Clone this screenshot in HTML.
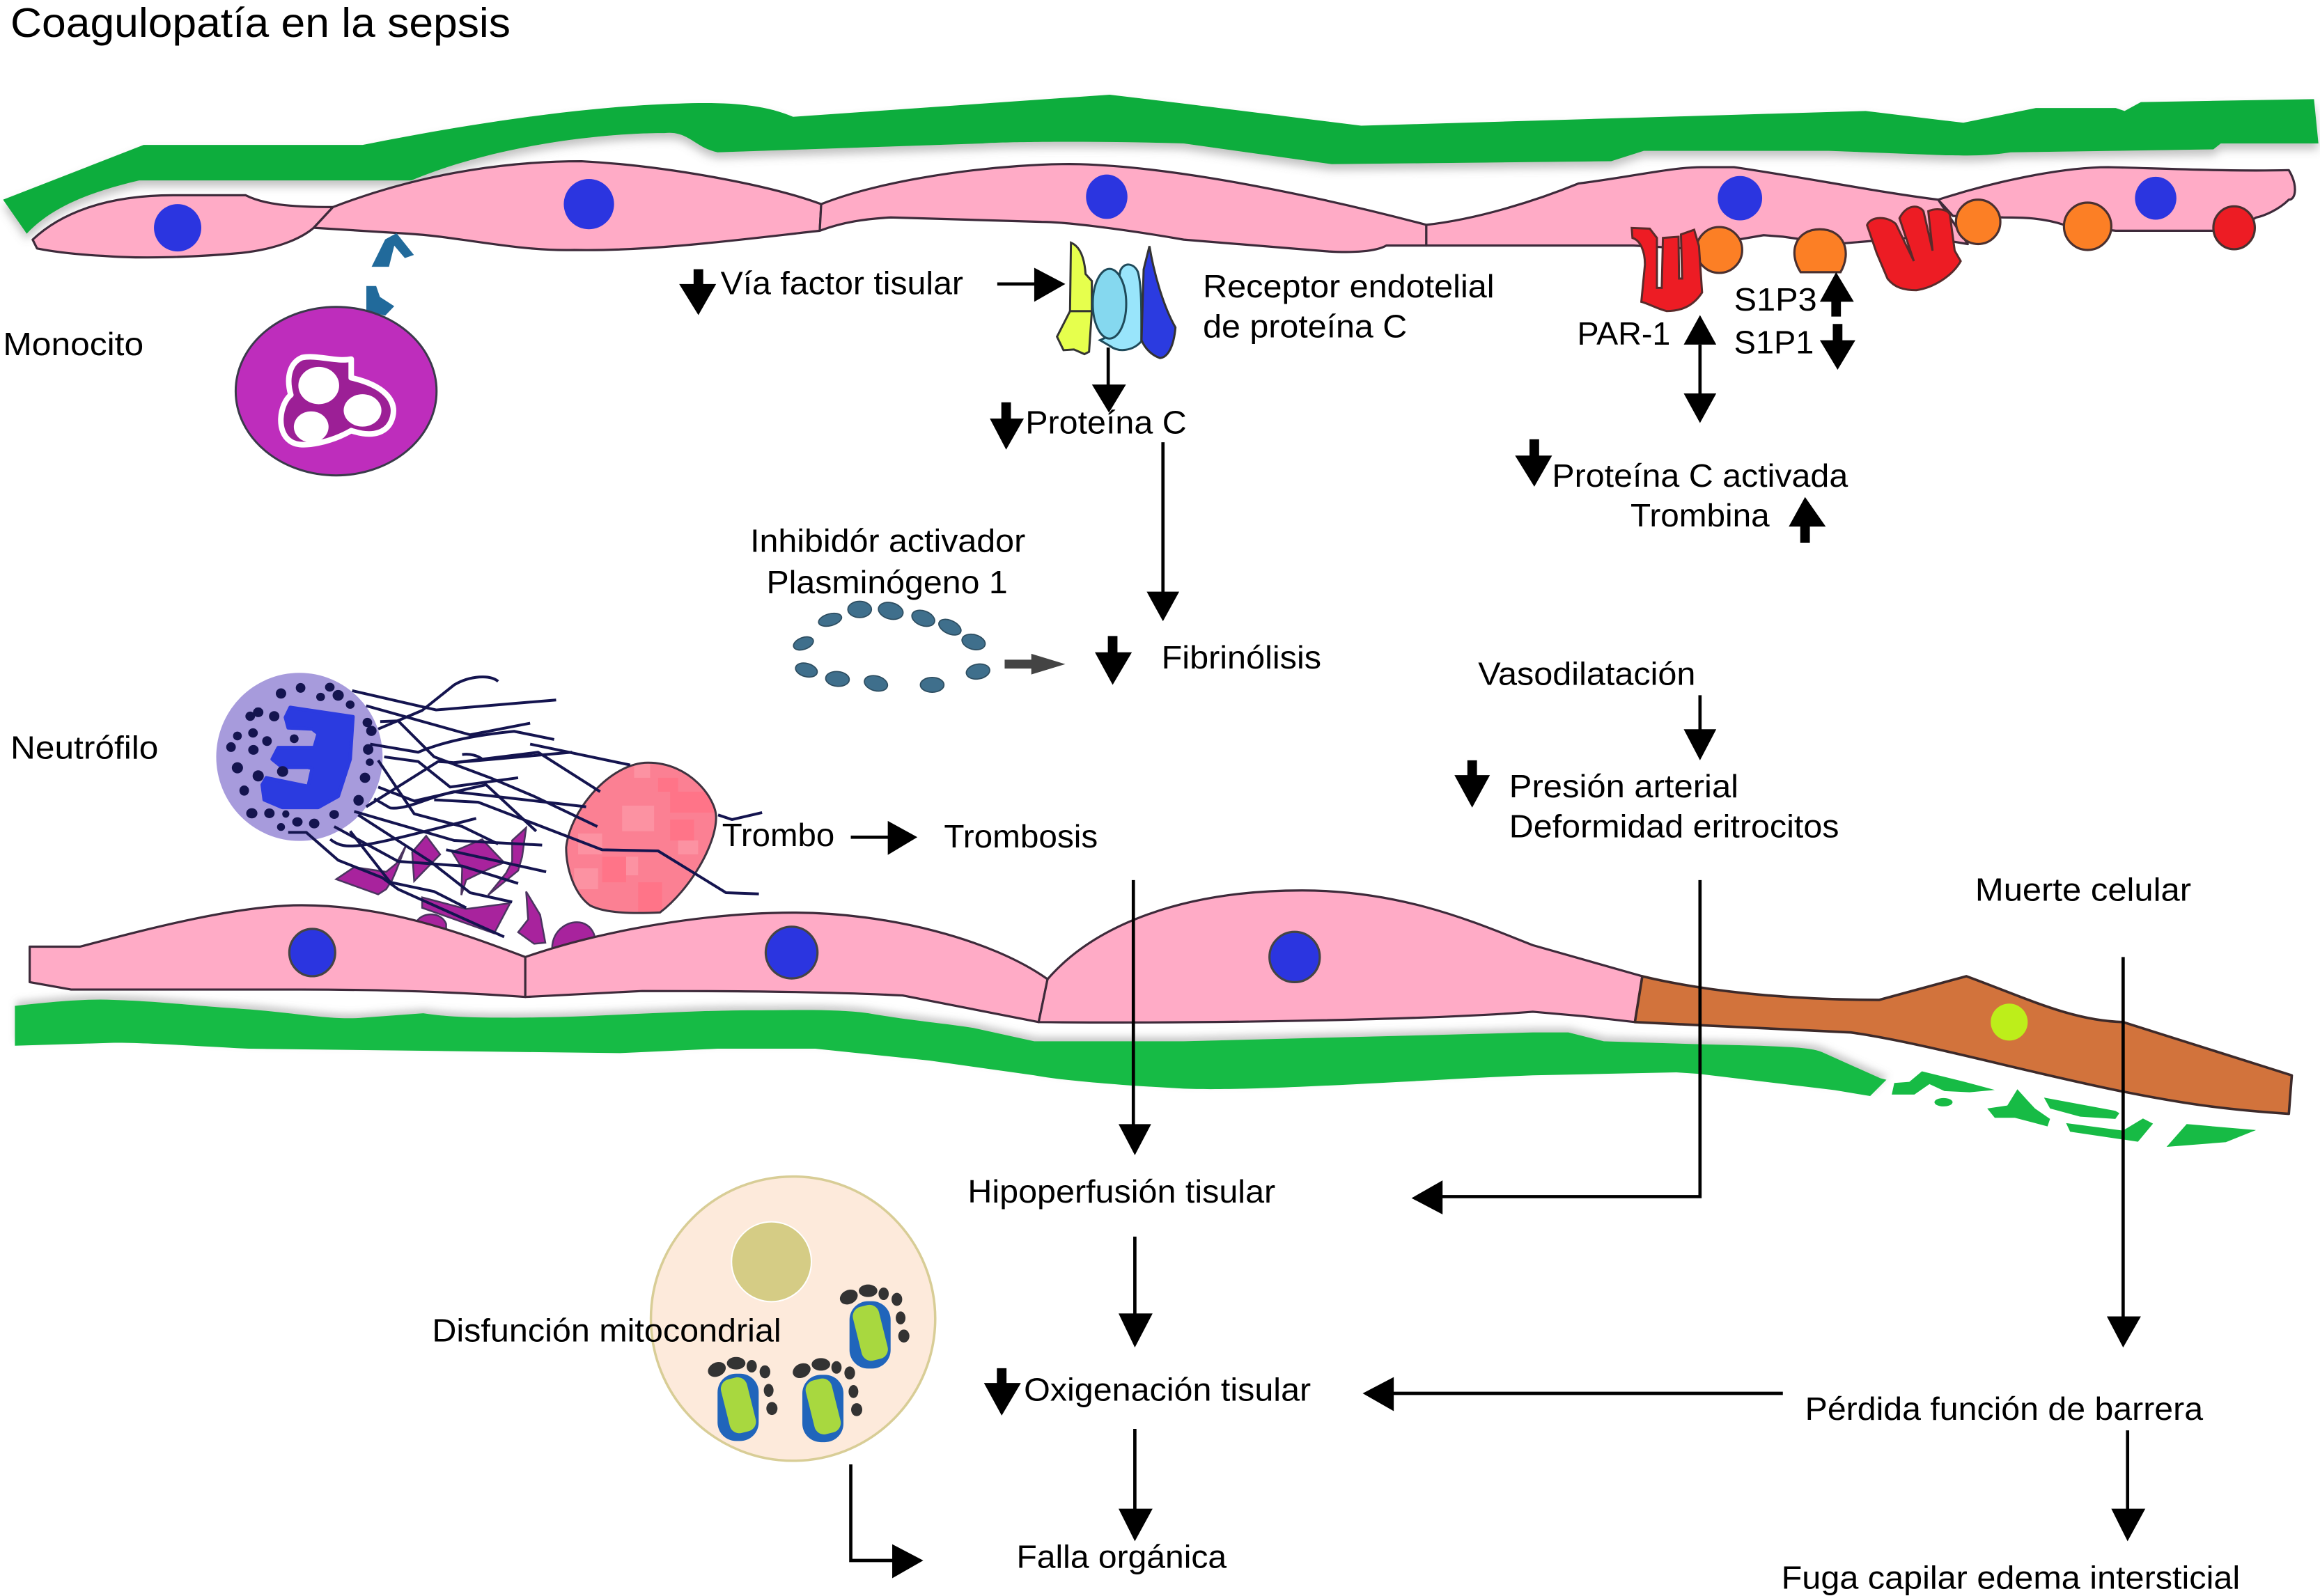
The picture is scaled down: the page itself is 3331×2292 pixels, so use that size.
<!DOCTYPE html>
<html><head><meta charset="utf-8">
<style>
html,body{margin:0;padding:0;background:#fff}
svg{display:block}
text{font-family:"Liberation Sans",sans-serif;font-size:22px;fill:#000}
.cell{fill:#ffabc6;stroke:#3d2a3a;stroke-width:1.5;stroke-linejoin:round}
.ns{vector-effect:non-scaling-stroke}
.strand path{fill:none;stroke:#14144f;stroke-width:4;vector-effect:non-scaling-stroke;stroke-linejoin:round}
.frag path{fill:#a8239d;stroke:#4b3560;stroke-width:2.5;vector-effect:non-scaling-stroke}
.l{stroke:#000;stroke-width:2.2;fill:none}
.t{stroke:#000;stroke-width:6.5;fill:none}
</style></head><body>
<svg xmlns="http://www.w3.org/2000/svg" width="3331" height="2292" viewBox="0 0 1568 1079">
<defs>
<filter id="sd" x="-5%" y="-30%" width="110%" height="170%"><feDropShadow dx="0" dy="4" stdDeviation="3" flood-color="#777" flood-opacity=".45"/></filter>
<filter id="su" x="-5%" y="-30%" width="110%" height="170%"><feDropShadow dx="1" dy="-3" stdDeviation="2.5" flood-color="#777" flood-opacity=".4"/></filter>
<clipPath id="thr"><path d="M1185,495 C1290,495 1355,650 1355,730 C1355,850 1290,1040 1215,1140 C1150,1145 1080,1145 1040,1110 C1000,1060 980,950 980,860 C990,700 1090,495 1185,495 Z"/></clipPath>
<g id="mito">
<rect x="1018" y="565" width="177" height="290" rx="80" fill="#2065bb"/>
<rect x="1050" y="582" width="115" height="238" rx="42" fill="#a8d83f" transform="rotate(-14 1108 700)"/>
<g fill="#333">
<ellipse cx="1015" cy="547" rx="40" ry="30" transform="rotate(-25 1015 547)"/>
<ellipse cx="1098" cy="520" rx="40" ry="27"/><ellipse cx="1165" cy="533" rx="22" ry="27"/>
<ellipse cx="1222" cy="557" rx="23" ry="28"/><ellipse cx="1238" cy="637" rx="21" ry="28"/><ellipse cx="1252" cy="715" rx="24" ry="28"/>
</g></g>
</defs>
<rect width="1568" height="1079" fill="#fff"/>

<!-- top basement membrane -->
<path filter="url(#sd)" fill="#0fad3c" d="M2,135 L97,98 L245,98 C310,85 390,72 459,70 C490,69 515,70 536,79 L750,64 L800,70 L920,85 L1261,75 L1327,83 L1376,73 L1430,73 L1436,75 L1447,69 L1564,67 L1567,97 L1501,97 L1496,101 L1359,103 C1340,106 1325,105 1315,105 L1236,102 L1111,102 L1089,109 L900,111 L800,97 C740,95 670,96 664,97 L485,103 C470,100 465,88 449,90 C400,90 330,100 278,122 L94,122 C60,130 35,140 18,158 L2,135 Z"/>

<!-- top cells -->
<path class="cell" d="M22,162 C40,145 70,132 117,132 L166,132 C178,138 195,140 225,140 L212,154 C205,160 190,168 163,171 C130,174 95,175 70,173 C50,172 35,170 25,168 Z"/>
<path class="cell" d="M225,140 C290,115 350,109 393,109 C450,112 520,125 555,138 L554,156 C500,162 440,170 388,169 C350,170 310,160 276,158 L212,154 Z"/>
<path class="cell" d="M555,138 C600,120 680,110 730,111 C800,113 900,135 964,152 L964,166 L937,166 C930,170 915,171 898,170 L800,162 C760,155 720,150 704,150 L602,147 C585,148 570,150 554,156 Z"/>
<path class="cell" d="M964,152 C1000,148 1040,135 1067,124 C1100,120 1130,113 1150,113 L1172,113 C1220,120 1270,130 1310,135 L1330,165 L1300,160 L1240,165 L1205,160 L1192,159 L1140,168 L1104,166 L964,166 Z"/>
<path class="cell" d="M1310,135 C1350,122 1395,113 1425,113 C1465,114 1510,116 1547,115 C1553,125 1552,135 1547,135 C1540,142 1530,146 1525,147 L1510,156 L1430,156 L1395,152 C1380,147 1365,147 1354,147 L1320,146 Z"/>
<g fill="#2b35e0">
<ellipse cx="120" cy="154" rx="16" ry="16"/><ellipse cx="398" cy="138" rx="17" ry="17"/><ellipse cx="748" cy="133" rx="14" ry="15"/><ellipse cx="1176" cy="134" rx="15" ry="15"/><ellipse cx="1457" cy="134" rx="14" ry="14.5"/>
</g>
<g stroke="#4a3030" stroke-width="1.5">
<ellipse cx="1162" cy="169" rx="15.5" ry="15.5" fill="#fc7f25"/>
<path d="M1217,184 C1208,170 1214,155 1230,155 C1246,155 1252,170 1244,184 Z" fill="#fc7f25"/>
<ellipse cx="1337" cy="150" rx="15" ry="15" fill="#fc7f25"/>
<ellipse cx="1411" cy="153" rx="16" ry="16" fill="#fc7f25"/>
<ellipse cx="1510" cy="154" rx="14" ry="14.5" fill="#ed1c24"/>
</g>
<!-- red receptors -->
<g transform="translate(1092.3,131.8) scale(.1623,.157)">
<path class="ns" fill="#ed1c24" stroke="#5a2a2a" stroke-width="3" d="M65,142 L140,145 L170,185 L170,400 L190,400 L195,185 L260,180 L262,360 L275,360 L270,170 L325,150 L345,220 L358,420 C320,480 270,500 210,500 C170,490 140,470 105,460 L120,300 C120,240 100,195 68,185 Z"/>
<path class="ns" fill="#ed1c24" stroke="#5a2a2a" stroke-width="3" d="M1045,130 C1060,90 1130,90 1165,125 L1240,285 L1180,100 C1210,40 1260,40 1280,70 L1318,240 L1300,70 C1330,55 1380,60 1390,85 L1410,240 L1435,285 C1400,350 1320,400 1250,410 C1200,410 1160,400 1130,360 L1085,250 Z"/>
</g>

<!-- protein C receptor -->
<g transform="translate(696.8,150.7) scale(.157)" stroke-width="3">
<path class="ns" fill="#e6ff4d" stroke="#333" d="M172,85 C210,100 230,150 235,220 L262,250 L262,380 L168,380 Z"/>
<path class="ns" fill="#e6ff4d" stroke="#333" d="M168,380 L262,380 L250,555 L230,565 L185,545 L140,548 L112,490 Z"/>
<path class="ns" fill="#99e5fb" stroke="#1f4a5a" d="M385,205 C400,170 440,170 460,210 C478,270 475,400 475,510 C440,550 380,560 340,530 L297,505 L330,490 Z"/>
<ellipse class="ns" cx="338" cy="348" rx="72" ry="150" fill="#85d8ef" stroke="#1f4a5a"/>
<path class="ns" fill="#2b3be0" stroke="#333" d="M510,100 C530,220 570,360 622,450 C615,530 590,580 555,582 C520,570 490,540 476,505 L485,200 Z"/>
</g>

<!-- monocyte -->
<g transform="scale(.5104,.2102)">
<path fill="#216a9b" d="M492,858 L515,858 L522,790 L536,830 L548,820 L525,750 L510,770 Z"/>
<path fill="#216a9b" d="M485,920 L498,920 L503,955 L522,985 L510,1015 L485,1000 Z"/>
<ellipse class="ns" cx="445" cy="1258" rx="133" ry="271" fill="#be2dbc" stroke="#3a3a4a" stroke-width="3"/>
<path class="ns" fill="#9c1f96" stroke="#fff" stroke-width="8" stroke-linejoin="round" d="M400,1150 C420,1140 445,1165 465,1155 L465,1215 C510,1240 525,1290 520,1340 C515,1390 495,1410 465,1385 C440,1420 400,1445 385,1420 C365,1390 370,1300 385,1270 C378,1210 385,1165 400,1150 Z"/>
<ellipse cx="422" cy="1240" rx="27" ry="60" fill="#fff"/><ellipse cx="480" cy="1320" rx="25" ry="52" fill="#fff"/><ellipse cx="412" cy="1373" rx="23" ry="50" fill="#fff"/>
</g>

<!-- PAI ring -->
<g fill="#3f6f8c" stroke="#2d4d60" stroke-width=".8">
<ellipse cx="543" cy="435" rx="7" ry="4" transform="rotate(-20 543 435)"/><ellipse cx="561" cy="419" rx="8" ry="4" transform="rotate(-15 561 419)"/><ellipse cx="581" cy="412" rx="8" ry="5.5"/><ellipse cx="602" cy="413" rx="8.5" ry="5.5" transform="rotate(15 602 413)"/><ellipse cx="624" cy="418" rx="8" ry="5" transform="rotate(20 624 418)"/><ellipse cx="642" cy="424" rx="8" ry="4.5" transform="rotate(25 642 424)"/><ellipse cx="658" cy="434" rx="8" ry="5" transform="rotate(15 658 434)"/><ellipse cx="661" cy="454" rx="8" ry="5" transform="rotate(-10 661 454)"/><ellipse cx="630" cy="463" rx="8" ry="5"/><ellipse cx="592" cy="462" rx="8" ry="5" transform="rotate(15 592 462)"/><ellipse cx="566" cy="459" rx="8" ry="5" transform="rotate(5 566 459)"/><ellipse cx="545" cy="453" rx="7.5" ry="4.5" transform="rotate(15 545 453)"/>
</g>
<path d="M679,446 L697,446 L697,442 L720,449 L697,456 L697,452 L679,452 Z" fill="#444"/>

<!-- neutrophil group domes -->
<g transform="translate(117.7,437.9) scale(.2703,.157)">
<g class="frag">
<path d="M608,1175 C625,1135 670,1140 680,1190 L680,1230 L608,1190 Z"/>
<path d="M945,1295 C945,1210 990,1170 1020,1185 C1040,1195 1050,1225 1052,1250 L950,1300 Z"/>
</g>
</g>

<!-- bottom basement membrane -->
<path filter="url(#su)" fill="#17bb45" d="M10,680 C30,678 55,675 77,676 C110,677 130,680 163,682 C195,684 225,690 245,688 L286,685 C305,688 325,688 347,688 C400,688 460,683 510,683 C540,683 565,682 587,685 C615,690 640,692 658,695 L699,704 L800,704 L1036,698 L1060,698 L1084,704 L1149,706 L1190,707 C1210,708 1225,708 1233,712 L1271,729 L1275,730 L1264,741 L1240,737 L1148,726 L1133,725 L1036,727 C960,730 850,738 800,736 L766,734 C740,732 715,730 699,727 L628,717 L551,709 L485,709 L419,712 L168,709 C130,707 100,705 77,705 L10,707 Z"/>
<g transform="translate(1035.8,635.6) scale(.3396,.157)" fill="#17bb45">
<path d="M720,615 L750,610 L775,565 L860,610 L920,645 L870,655 L820,650 L790,620 L760,665 L715,665 Z"/>
<ellipse cx="818" cy="698" rx="18" ry="18"/>
<path d="M965,642 L985,690 L1000,725 L1030,770 L1025,802 L960,765 L920,765 L905,725 L945,712 Z"/>
<path d="M1018,678 L1160,735 L1168,745 L1160,770 L1090,760 L1030,725 Z"/>
<path d="M1062,788 L1175,820 L1215,768 L1235,790 L1205,868 L1070,825 Z"/>
<path d="M1302,792 L1440,818 L1380,870 L1262,890 Z"/>
</g>

<!-- bottom cells -->
<path class="cell" d="M20,640 L54,640 C100,628 160,612 204,612 C260,612 310,630 355,647 L355,674 C300,670 250,669 204,669 L48,669 L20,664 Z"/>
<path class="cell" d="M355,647 C410,628 480,617 536,617 C600,617 670,635 708,662 L702,691 L610,673 C550,670 480,670 434,670 L355,674 Z"/>
<path class="cell" d="M708,662 C740,625 800,602 880,602 C950,602 1000,625 1036,639 L1110,660 L1105,691 L1070,687 L1036,684 C960,690 800,692 702,691 Z"/>
<path fill="#d2733c" stroke="#3d2a2a" stroke-width="1.7" stroke-linejoin="round" d="M1110,660 C1160,672 1220,676 1270,676 L1329,660 C1370,675 1400,690 1435,691 L1549,727 L1547,753 C1500,750 1470,745 1435,738 C1370,725 1300,705 1251,698 L1105,691 Z"/>
<ellipse cx="1358" cy="691" rx="12.5" ry="12.5" fill="#bdee1a"/>
<g stroke="#444" stroke-width="1.5" fill="#2b35e0">
<ellipse cx="211" cy="644" rx="15.5" ry="16"/><ellipse cx="535" cy="644" rx="17.5" ry="17.5"/><ellipse cx="875" cy="647" rx="17" ry="17"/>
</g>

<!-- neutrophil -->
<g transform="translate(117.7,437.9) scale(.2703,.157)">
<ellipse cx="313" cy="470" rx="208" ry="362" fill="#a79bdc"/>
<path class="ns" fill="#2b3be0" stroke="#2b3be0" stroke-width="5" stroke-linejoin="round" d="M290,257 L447,297 L440,480 L410,640 L360,688 L270,688 L225,655 L220,590 L230,560 L335,597 L345,520 L335,515 L270,515 L245,480 L260,430 L350,430 L360,370 L345,350 L285,345 L278,300 Z"/>
<g fill="#14144f">
<ellipse cx="267" cy="197" rx="13" ry="22"/><ellipse cx="316" cy="173" rx="12" ry="21"/><ellipse cx="389" cy="170" rx="12" ry="19"/><ellipse cx="366" cy="212" rx="11" ry="18"/><ellipse cx="410" cy="205" rx="14" ry="23"/><ellipse cx="440" cy="245" rx="11" ry="18"/><ellipse cx="210" cy="278" rx="13" ry="21"/><ellipse cx="190" cy="295" rx="12" ry="20"/><ellipse cx="250" cy="295" rx="13" ry="22"/><ellipse cx="483" cy="322" rx="12" ry="20"/><ellipse cx="493" cy="358" rx="13" ry="22"/><ellipse cx="197" cy="367" rx="12" ry="20"/><ellipse cx="158" cy="380" rx="11" ry="19"/><ellipse cx="232" cy="402" rx="12" ry="21"/><ellipse cx="300" cy="392" rx="11" ry="19"/><ellipse cx="142" cy="428" rx="12" ry="21"/><ellipse cx="198" cy="440" rx="13" ry="21"/><ellipse cx="485" cy="438" rx="13" ry="23"/><ellipse cx="489" cy="493" rx="10" ry="16"/><ellipse cx="158" cy="517" rx="14" ry="24"/><ellipse cx="210" cy="552" rx="14" ry="24"/><ellipse cx="271" cy="533" rx="14" ry="23"/><ellipse cx="477" cy="560" rx="13" ry="22"/><ellipse cx="175" cy="615" rx="12" ry="22"/><ellipse cx="461" cy="657" rx="13" ry="23"/><ellipse cx="194" cy="713" rx="14" ry="22"/><ellipse cx="238" cy="713" rx="13" ry="21"/><ellipse cx="279" cy="716" rx="9" ry="16"/><ellipse cx="400" cy="718" rx="12" ry="19"/><ellipse cx="308" cy="750" rx="13" ry="20"/><ellipse cx="350" cy="757" rx="13" ry="21"/><ellipse cx="267" cy="772" rx="10" ry="17"/>
</g>
<g class="frag">
<path d="M405,997 L450,945 L530,965 L555,930 L580,850 L555,960 L545,1000 L530,1040 L510,1062 Z"/>
<path d="M630,810 L665,890 L600,1005 L595,880 Z"/>
<path d="M695,880 L770,825 L800,880 L825,925 L790,950 L730,1000 L718,1065 L720,950 Z"/>
<path d="M880,775 L870,900 L860,960 L785,1065 L830,970 L845,920 L845,830 Z"/>
<path d="M620,1075 L730,1125 L840,1100 L800,1230 L620,1120 Z"/>
<path d="M880,1050 L915,1150 L928,1270 L900,1275 L860,1225 L885,1170 Z"/>
</g>
<path fill="#fb8093" d="M1185,495 C1290,495 1355,650 1355,730 C1355,850 1290,1040 1215,1140 C1150,1145 1080,1145 1040,1110 C1000,1060 980,950 980,860 C990,700 1090,495 1185,495 Z"/>
<g clip-path="url(#thr)">
<g fill="#ff7488"><rect x="1240" y="620" width="110" height="90"/><rect x="1240" y="740" width="60" height="90"/><rect x="1070" y="900" width="60" height="110"/><rect x="1160" y="1010" width="60" height="130"/><rect x="1210" y="560" width="50" height="60"/></g>
<g fill="#fc92a2"><rect x="1120" y="680" width="80" height="110"/><rect x="1010" y="800" width="60" height="90"/><rect x="1150" y="500" width="40" height="60"/><rect x="1260" y="830" width="50" height="60"/><rect x="1130" y="900" width="30" height="80"/><rect x="1000" y="950" width="60" height="90"/></g>
</g>
<path class="ns" fill="none" stroke="#3f3340" stroke-width="3" d="M1185,495 C1290,495 1355,650 1355,730 C1355,850 1290,1040 1215,1140 C1150,1145 1080,1145 1040,1110 C1000,1060 980,950 980,860 C990,700 1090,495 1185,495 Z"/>
<g class="strand">
<path d="M445,185 L655,268 L955,225"/>
<path d="M810,145 C790,115 740,120 700,160 L620,270 L510,350"/>
<path d="M480,250 L740,375 L890,325"/>
<path d="M515,318 L560,315 L650,470 L790,560 L900,640 L1058,770"/>
<path d="M490,415 L610,450 C680,400 760,375 850,360 L950,395"/>
<path d="M525,470 L610,490 L690,600 L860,560"/>
<path d="M510,485 L600,715 L720,770 L810,845"/>
<path d="M890,415 L1140,505"/>
<path d="M480,685 L660,490 L700,495 L910,450 L1065,620"/>
<path d="M510,600 L600,660 L780,590 L905,790"/>
<path d="M500,650 L540,690 C580,700 640,640 700,620 L1030,685"/>
<path d="M450,705 L700,830 L920,850"/>
<path d="M650,655 L760,665 L1070,870 L1210,875 L1380,1055 L1462,1060"/>
<path d="M390,825 C430,880 470,860 755,735"/>
<path d="M400,770 L560,920 L720,940 L860,1015"/>
<path d="M440,790 L540,1010 L650,1050 L730,1120"/>
<path d="M285,795 L330,795 L410,915 L520,990 L560,1040 L825,1245"/>
<path d="M460,720 L640,920 L740,1055 L845,1095"/>
<path d="M680,870 L930,965"/>
<path d="M720,460 C740,455 760,465 770,480"/>
<path d="M700,495 L995,450"/>
<path d="M1360,720 L1395,740 L1470,710"/>
</g>
</g>

<!-- mitochondria cell -->
<g transform="translate(414.3,791) scale(.157)">
<circle class="ns" cx="775" cy="640" r="612" fill="#fdeadb" stroke="#d8cd96" stroke-width="3.5"/>
<circle class="ns" cx="682" cy="395" r="172" fill="#d5cc85" stroke="#fff" stroke-width="2"/>
<use href="#mito"/>
<use href="#mito" x="-568" y="312"/>
<use href="#mito" x="-203" y="317"/>
</g>

<!-- arrows -->
<g fill="#000">
<path class="t" d="M472,182V194"/><path d="M459,192H484L472,213Z"/>
<path class="l" stroke-width="3" d="M674,192H700"/><path d="M699,181V204L720,192Z"/>
<path class="l" d="M749,235V262"/><path d="M738,260H761L749.500,279Z"/>
<path class="t" d="M680,272V285"/><path d="M669,283H692L680,304Z"/>
<path class="l" d="M786,299V402"/><path d="M775,400H797L786,420Z"/>
<path class="t" d="M752,430V442"/><path d="M740,441H765L752,463Z"/>
<path class="l" d="M1149,233V268"/><path d="M1138,233H1160L1149,213Z"/><path d="M1138,266H1160L1149,286Z"/>
<path class="t" stroke-width="8" d="M1241,202V214"/><path d="M1230,204H1253L1241,184Z"/>
<path class="t" stroke-width="7" d="M1242,219V232"/><path d="M1230,230H1254L1242,250Z"/>
<path class="t" stroke-width="7" d="M1037,297V310"/><path d="M1024,308H1049L1037,329Z"/>
<path class="t" d="M1220,354V367"/><path d="M1209,356H1234L1220,336Z"/>
<path class="l" d="M1149,470V495"/><path d="M1138,493H1160L1149,514Z"/>
<path class="t" d="M995,514V526"/><path d="M983,524H1007L995,546Z"/>
<path class="l" d="M575,566H602"/><path d="M600,555V578L620,566Z"/>
<path class="l" d="M766,595V762"/><path d="M756,760H778L767,781Z"/>
<path class="l" d="M1149,595V809H973"/><path d="M975,798V821L954,810Z"/>
<path class="l" d="M767,836V890"/><path d="M756,888H779L767,911Z"/>
<path class="l" d="M1435,647V892"/><path d="M1424,890H1447L1435,911Z"/>
<path class="t" d="M677,925V937"/><path d="M665,935H690L677,957Z"/>
<path class="l" d="M1205,942H940"/><path d="M942,931V954L921,942Z"/>
<path class="l" d="M767,966V1022"/><path d="M756,1020H779L767,1042Z"/>
<path class="l" d="M1438,967V1022"/><path d="M1427,1020H1450L1438,1042Z"/>
<path class="l" d="M575,990V1055H605"/><path d="M603,1044V1067L624,1055Z"/>
</g>

<!-- labels -->
<text x="7" y="25" style="font-size:28px" textLength="338" lengthAdjust="spacingAndGlyphs">Coagulopatía en la sepsis</text>
<text x="487" y="199" textLength="164" lengthAdjust="spacingAndGlyphs">Vía factor tisular</text>
<text x="813" y="201" textLength="197" lengthAdjust="spacingAndGlyphs">Receptor endotelial</text>
<text x="813" y="228" textLength="138" lengthAdjust="spacingAndGlyphs">de proteína C</text>
<text x="2" y="240" textLength="95" lengthAdjust="spacingAndGlyphs">Monocito</text>
<text x="693" y="293" textLength="109" lengthAdjust="spacingAndGlyphs">Proteína C</text>
<text x="1066" y="233" textLength="63" lengthAdjust="spacingAndGlyphs">PAR-1</text>
<text x="1172" y="210" textLength="56" lengthAdjust="spacingAndGlyphs">S1P3</text>
<text x="1172" y="239" textLength="54" lengthAdjust="spacingAndGlyphs">S1P1</text>
<text x="1049" y="329" textLength="200" lengthAdjust="spacingAndGlyphs">Proteína C activada</text>
<text x="1102" y="356" textLength="94" lengthAdjust="spacingAndGlyphs">Trombina</text>
<text x="507" y="373" textLength="186" lengthAdjust="spacingAndGlyphs">Inhibidór activador</text>
<text x="518" y="401" textLength="163" lengthAdjust="spacingAndGlyphs">Plasminógeno 1</text>
<text x="785" y="452" textLength="108" lengthAdjust="spacingAndGlyphs">Fibrinólisis</text>
<text x="999" y="463" textLength="147" lengthAdjust="spacingAndGlyphs">Vasodilatación</text>
<text x="7" y="513" textLength="100" lengthAdjust="spacingAndGlyphs">Neutrófilo</text>
<text x="488" y="572" textLength="76" lengthAdjust="spacingAndGlyphs">Trombo</text>
<text x="638" y="573" textLength="104" lengthAdjust="spacingAndGlyphs">Trombosis</text>
<text x="1020" y="539" textLength="155" lengthAdjust="spacingAndGlyphs">Presión arterial</text>
<text x="1020" y="566" textLength="223" lengthAdjust="spacingAndGlyphs">Deformidad eritrocitos</text>
<text x="1335" y="609" textLength="146" lengthAdjust="spacingAndGlyphs">Muerte celular</text>
<text x="654" y="813" textLength="208" lengthAdjust="spacingAndGlyphs">Hipoperfusión tisular</text>
<text x="292" y="907" textLength="236" lengthAdjust="spacingAndGlyphs">Disfunción mitocondrial</text>
<text x="692" y="947" textLength="194" lengthAdjust="spacingAndGlyphs">Oxigenación tisular</text>
<text x="1220" y="960" textLength="269" lengthAdjust="spacingAndGlyphs">Pérdida función de barrera</text>
<text x="687" y="1060" textLength="142" lengthAdjust="spacingAndGlyphs">Falla orgánica</text>
<text x="1204" y="1074" textLength="310" lengthAdjust="spacingAndGlyphs">Fuga capilar edema intersticial</text>
</svg>
</body></html>
